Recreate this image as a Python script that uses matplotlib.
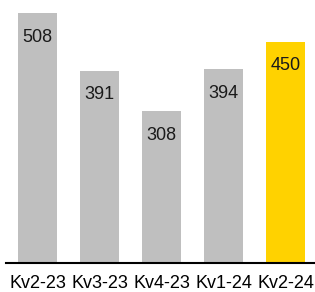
import matplotlib.pyplot as plt

plt.rcParams['font.family'] = ['Liberation Sans', 'DejaVu Sans']

quarters = ['Kv2-23', 'Kv3-23', 'Kv4-23', 'Kv1-24', 'Kv2-24']
values = [508, 391, 308, 394, 450]
highlight = 'Kv2-24'

colors = ['#FFD200' if q == highlight else '#BFBFBF' for q in quarters]

fig = plt.figure(figsize=(3.15, 2.92), dpi=100)
ax = fig.add_axes([6/315, 29/292, 309/315, 263/292])

x = range(len(quarters))
rects = ax.bar(x, values, width=0.63, color=colors)

for xi, v in zip(x, values):
    ax.annotate(f'{v}', xy=(xi, v), xytext=(0, -17.5), textcoords='offset points',
                ha='center', va='center', fontsize=13, color='#1a1a1a')

ax.set_xlim(-0.507, 4.47)
ax.set_ylim(0, 534.4)
ax.set_xticks(list(x), quarters, fontsize=13)
ax.tick_params(axis='x', length=0, pad=8.5)
ax.set_yticks([])
for s in ['top', 'right', 'left']:
    ax.spines[s].set_visible(False)
ax.spines['bottom'].set_linewidth(1.5)

fig.savefig('out.png', dpi=100)
